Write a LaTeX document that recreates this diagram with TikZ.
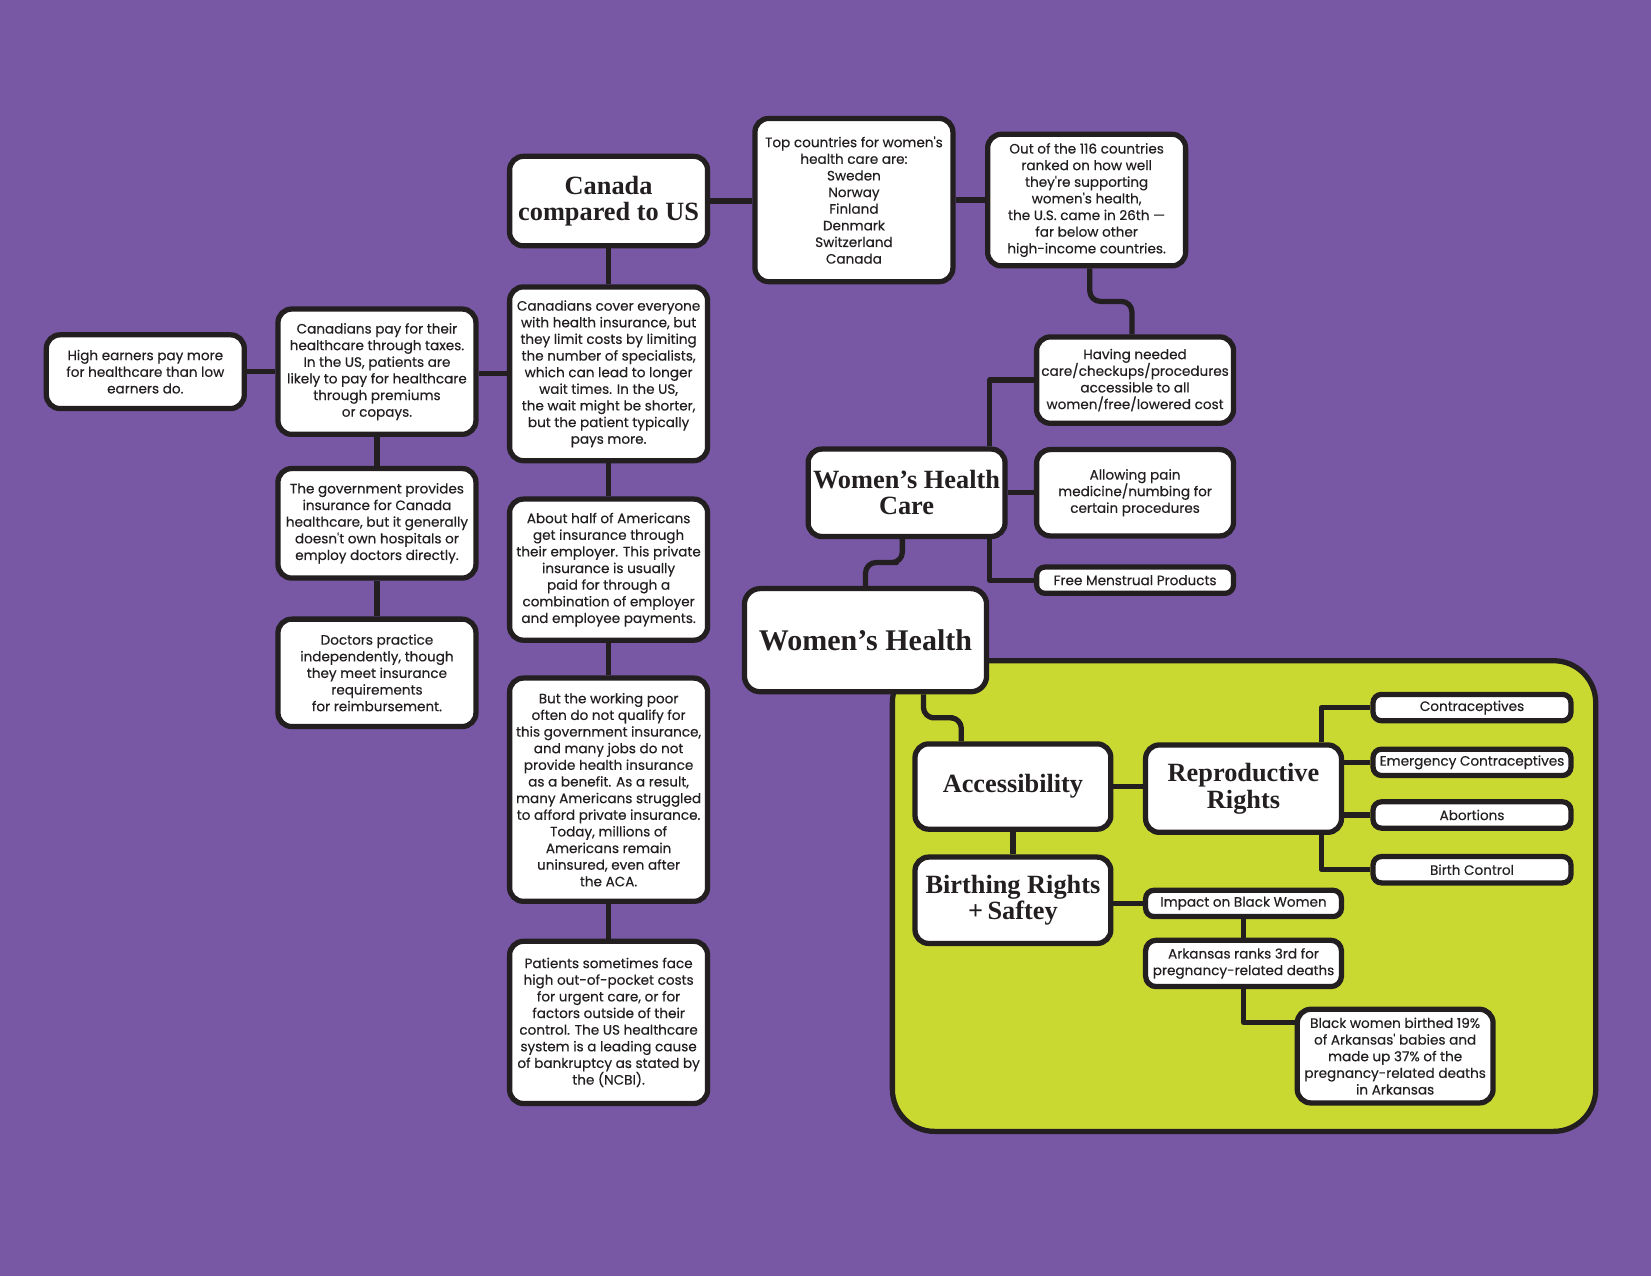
\documentclass[tikz,border=0pt]{standalone}
\usepackage{fontspec}
\usepackage{tikz}
\usetikzlibrary{calc,backgrounds}
\newfontfamily\bodyfam[FakeBold=0.35]{Poppins}
\newfontfamily\headfam{Liberation Serif}
\definecolor{bgPurple}{HTML}{7858A4}
\definecolor{panelGreen}{HTML}{CAD931}
\definecolor{inkDark}{HTML}{231F20}
\tikzset{
  infobox/.style={draw=inkDark, fill=white, line width=5pt, rounded corners=13pt,
                  align=center, inner sep=0pt, text=inkDark, minimum width=188pt,
                  font=\bodyfam\fontsize{12.9}{15.8}\selectfont},
  tagbox/.style={infobox, rounded corners=8pt, minimum height=25pt},
  headbox/.style={infobox, minimum width=186pt,
                  font=\headfam\bfseries\fontsize{25}{25}\selectfont},
  link/.style={draw=inkDark, line width=5pt, line join=round},
  bendlink/.style={link, rounded corners=10pt},
}

\begin{document}
\begin{tikzpicture}[x=1pt, y=-1pt]
\useasboundingbox (0,0) rectangle (1568,1212);

%% Canada column
\node[headbox, minimum width=188pt, minimum height=85pt] (canada) at (578,191) {Canada\\compared to US};
\node[infobox, minimum height=165pt] (cover) at (578,355) {Canadians cover everyone\\with health insurance, but\\they limit costs by limiting\\the number of specialists,\\which can lead to longer\\wait times. In the US,\\the wait might be shorter,\\but the patient typically\\pays more.};
\node[infobox, minimum height=134pt] (half) at (578,541) {About half of Americans\\get insurance through\\their employer. This private\\insurance is usually\\paid for through a\\combination of employer\\and employee payments.};
\node[infobox, minimum height=212pt] (poor) at (578,750) {But the working poor\\often do not qualify for\\this government insurance,\\and many jobs do not\\provide health insurance\\as a benefit. As a result,\\many Americans struggled\\to afford private insurance.\\Today, millions of\\Americans remain\\uninsured, even after\\the ACA.};
\node[infobox, minimum height=154pt] (bankr) at (578,971) {Patients sometimes face\\high out-of-pocket costs\\for urgent care, or for\\factors outside of their\\control. The US healthcare\\system is a leading cause\\of bankruptcy as stated by\\the (NCBI).};

%% Left branch
\node[infobox, minimum height=119pt] (paytax) at (358,353) {Canadians pay for their\\healthcare through taxes.\\In the US, patients are\\likely to pay for healthcare\\through premiums\\or copays.};
\node[infobox, minimum height=70pt] (higher) at (138,353) {High earners pay more\\for healthcare than low\\earners do.};
\node[infobox, minimum height=104pt] (govt) at (358,497) {The government provides\\insurance for Canada\\healthcare, but it generally\\doesn't own hospitals or\\employ doctors directly.};
\node[infobox, minimum height=102pt] (doctors) at (358,639) {Doctors practice\\independently, though\\they meet insurance\\requirements\\for reimbursement.};

%% Top row
\node[infobox, minimum height=155pt] (topc) at (811,190) {Top countries for women's\\health care are:\\Sweden\\Norway\\Finland\\Denmark\\Switzerland\\Canada};
\node[infobox, minimum height=125pt] (outof) at (1032,190) {Out of the 116 countries\\ranked on how well\\they're supporting\\women's health,\\the U.S. came in 26th —\\far below other\\high-income countries.};

%% Women's Health Care
\node[headbox, minimum width=187pt, minimum height=83pt] (whc) at (861,468) {Women’s Health\\Care};
\node[infobox, minimum width=187pt, minimum height=82pt] (needed) at (1078,361) {Having needed\\care/checkups/procedures\\accessible to all\\women/free/lowered cost};
\node[infobox, minimum width=187pt, minimum height=82pt] (pain) at (1078,468) {Allowing pain\\medicine/numbing for\\certain procedures};
\node[tagbox, minimum width=187pt] (menst) at (1078,551) {Free Menstrual Products};

%% Women's Health (root)
\node[headbox, minimum width=230pt, minimum height=98pt, rounded corners=15pt,
      font=\headfam\bfseries\fontsize{28.5}{28.5}\selectfont] (wh) at (822,608) {Women’s Health};

%% Green panel
\node[headbox, minimum height=81pt] (acc) at (962,747) {Accessibility};
\node[headbox, minimum height=83pt] (repro) at (1181,749) {Reproductive\\Rights};
\node[headbox, minimum height=82pt] (birth) at (962,855) {Birthing Rights\\+\,Saftey};
\foreach \n/\yy/\t in {contra/672/Contraceptives, emerg/724/Emergency Contraceptives,
                      abort/774/Abortions, bcontrol/826/Birth Control} {
  \node[tagbox] (\n) at (1398,\yy) {\t};
}
\node[tagbox, minimum width=186pt] (impact) at (1181,858) {Impact on Black Women};
\node[infobox, minimum width=186pt, minimum height=44pt, rounded corners=10pt] (arkrank) at (1181,915) {Arkansas ranks 3rd for\\pregnancy-related deaths};
\node[infobox, minimum width=186pt, minimum height=89pt] (blackw) at (1325,1003) {Black women birthed 19\%\\of Arkansas' babies and\\made up 37\% of the\\pregnancy-related deaths\\in Arkansas};

%% Backdrop and connectors
\begin{scope}[on background layer]
  \fill[bgPurple] (0,0) rectangle (1568,1212);
  \draw[inkDark, fill=panelGreen, line width=5pt, rounded corners=40pt]
    (847.5,627.5) rectangle (1515.5,1074.5);

  \coordinate (trunkA) at (940,468);
  \coordinate (trunkB) at (1255,749);

  \draw[link] (canada.east) -- (canada.east -| topc.west);
  \draw[link] (topc.east) -- (topc.east -| outof.west);
  \foreach \a/\b in {canada/cover, cover/half, half/poor, poor/bankr, paytax/govt, govt/doctors} {
    \draw[link] (\a.south) -- (\b.north);
  }
  \draw[link] (cover.west) -- (cover.west -| paytax.east);
  \draw[link] (paytax.west) -- (paytax.west -| higher.east);

  \draw[bendlink] ([xshift=3pt]outof.south) |- ($(outof.south)!0.5!(needed.north)$)
    -| ([xshift=-3pt]needed.north);
  \draw[link] (needed.west) -| (trunkA |- whc.north);
  \draw[link] (menst.west) -| (trunkA |- whc.south);
  \draw[link] (whc.east) -- (whc.east -| pain.west);

  \draw[bendlink] ([xshift=-4pt]whc.south) |- ($(whc.south)!0.5!(wh.north)$) -| (wh.north);
  \draw[bendlink] ([xshift=55pt]wh.south) |- ($([xshift=55pt]wh.south)!0.5!([xshift=-49pt]acc.north)$)
    -| ([xshift=-49pt]acc.north);

  \draw[link] (acc.east) -- (acc.east -| repro.west);
  \draw[link] (acc.south) -- (birth.north);
  \draw[link] (contra.west) -| (trunkB |- repro.north);
  \draw[link] (bcontrol.west) -| (trunkB |- repro.south);
  \draw[link] (emerg.west) -- (emerg.west -| repro.east);
  \draw[link] (abort.west) -- (abort.west -| repro.east);

  \draw[link] (impact.west) -- (impact.west -| birth.east);
  \draw[link] (impact.south) -- (arkrank.north);
  \draw[link] (arkrank.south) |- ([yshift=32pt]blackw.west);
\end{scope}
\end{tikzpicture}
\end{document}
